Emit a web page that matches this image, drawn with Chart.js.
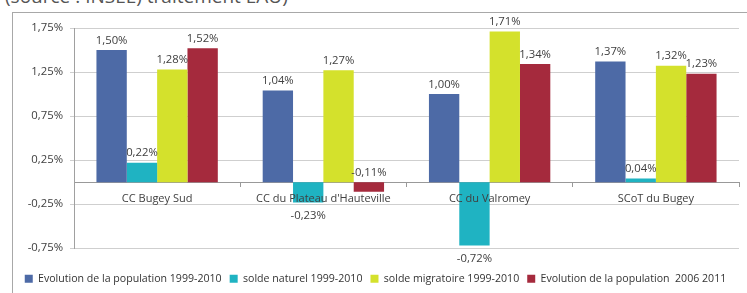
<!DOCTYPE html>
<html>
<head>
<meta charset="utf-8">
<script src="https://cdn.jsdelivr.net/npm/chart.js@4/dist/chart.umd.min.js"></script>
<style>
  html, body { margin: 0; padding: 0; background: #fff; overflow: hidden; }
  body { width: 747px; height: 293px; position: relative; }
  #src { position: absolute; left: 5px; top: -17px; font: 19px "Open Sans", sans-serif; color: #555; white-space: nowrap; }
  #frame { position: absolute; left: 12px; top: 12px; width: 740px; height: 300px; border: 1.5px solid #a8a8a8; box-sizing: border-box; }
  #wrap { position: absolute; left: 12px; top: 12px; width: 735px; height: 282px; }
</style>
</head>
<body>
<div id="src">(source : INSEE) traitement EAU)</div>
<div id="frame"></div>
<div id="wrap"><canvas id="c"></canvas></div>
<script>
const categories = ["CC Bugey Sud", "CC du Plateau d'Hauteville", "CC du Valromey", "SCoT du Bugey"];
const seriesNames = [
  "Evolution de la population 1999-2010",
  "solde naturel 1999-2010",
  "solde migratoire 1999-2010",
  "Evolution de la population  2006 2011"
];
const evolPop9910 = [1.50, 1.04, 1.00, 1.37];
const soldeNaturel = [0.22, -0.23, -0.72, 0.04];
const soldeMigratoire = [1.28, 1.27, 1.71, 1.32];
const evolPop0611 = [1.52, -0.11, 1.34, 1.23];
const yTicks = [-0.75, -0.25, 0.25, 0.75, 1.25, 1.75];

const colors = ["#4D6AA6", "#1FB3C2", "#D4E12C", "#A52A3D"];
const FONT = '"Open Sans", sans-serif';

const valueLabels = {
  id: 'valueLabels',
  afterDatasetsDraw(chart) {
    const ctx = chart.ctx;
    ctx.save();
    ctx.font = '11.3px ' + FONT;
    ctx.fillStyle = '#404040';
    ctx.textAlign = 'center';
    chart.data.datasets.forEach((ds, i) => {
      chart.getDatasetMeta(i).data.forEach((bar, j) => {
        const v = ds.data[j];
        const txt = v.toFixed(2).replace('.', ',') + '%';
        if (v >= 0) {
          ctx.textBaseline = 'bottom';
          ctx.fillText(txt, bar.x, bar.y - 4);
        } else if (ds.negLabelAbove) {
          ctx.textBaseline = 'bottom';
          ctx.fillText(txt, bar.x, bar.base - 4);
        } else {
          ctx.textBaseline = 'top';
          ctx.fillText(txt, bar.x, bar.y + 8);
        }
      });
    });
    ctx.restore();
  }
};

const seriesData = [evolPop9910, soldeNaturel, soldeMigratoire, evolPop0611];

new Chart(document.getElementById('c'), {
  type: 'bar',
  data: {
    labels: categories,
    datasets: seriesData.map((d, i) => ({
      label: seriesNames[i],
      data: d,
      backgroundColor: colors[i],
      borderWidth: 0,
      negLabelAbove: i === 3
    }))
  },
  options: {
    responsive: true,
    maintainAspectRatio: false,
    animation: false,
    datasets: { bar: { barPercentage: 1, categoryPercentage: 0.73 } },
    layout: { padding: { left: 0, right: 8, top: 16, bottom: 0 } },
    scales: {
      x: {
        position: { y: 0 },
        grid: { display: true, drawOnChartArea: false, drawTicks: true, tickLength: 4, color: '#999', offset: true },
        border: { display: true, color: '#999', width: 1 },
        ticks: { z: 1, font: { family: FONT, size: 11 }, color: '#404040', padding: 6 }
      },
      y: {
        min: -0.75,
        max: 1.75,
        afterBuildTicks(scale) { scale.ticks = yTicks.map(v => ({ value: v })); },
        afterFit(scale) { scale.width = 62; },
        grid: { color: '#cfcfcf', tickLength: 4, lineWidth: 1 },
        border: { display: true, color: '#a0a0a0' },
        ticks: {
          font: { family: FONT, size: 11.3 },
          color: '#404040',
          padding: 7,
          callback: (v) => v.toFixed(2).replace('.', ',') + '%'
        }
      }
    },
    plugins: {
      legend: {
        position: 'bottom',
        title: { display: true, text: '', font: { size: 1 }, padding: { top: 0, bottom: 16 } },
        labels: {
          boxWidth: 8,
          boxHeight: 8,
          padding: 8,
          font: { family: FONT, size: 10.6 },
          color: '#333'
        }
      },
      tooltip: { enabled: false }
    }
  },
  plugins: [valueLabels]
});
</script>
</body>
</html>
